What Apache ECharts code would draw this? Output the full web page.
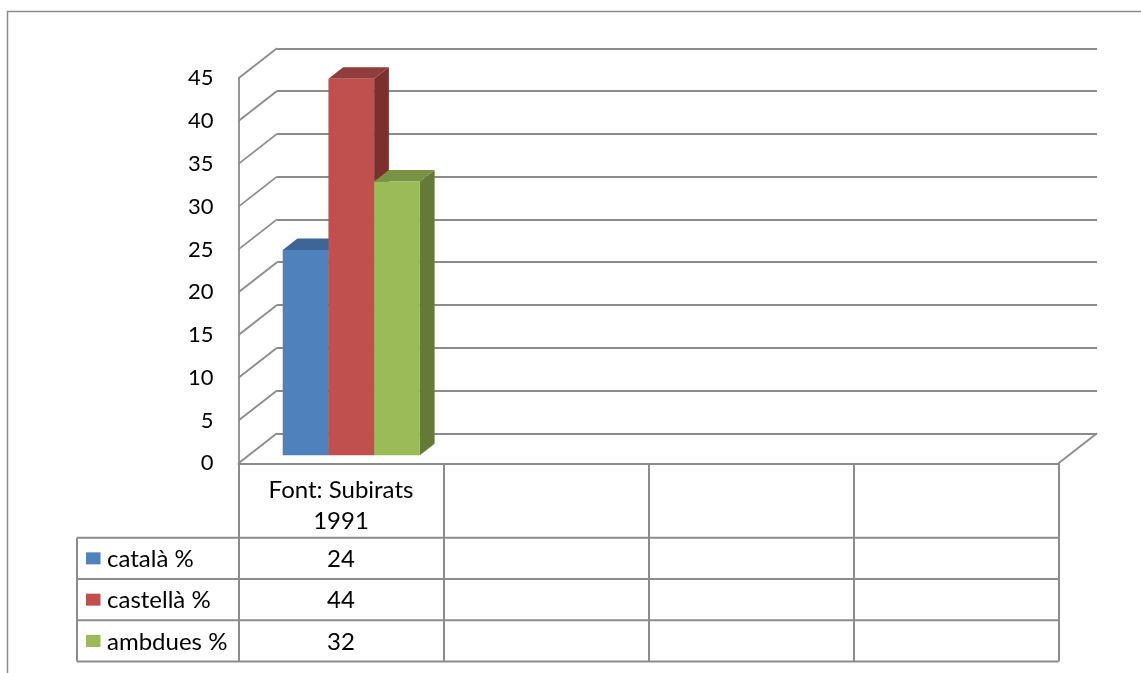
<!DOCTYPE html>
<html>
<head>
<meta charset="utf-8">
<script src="https://cdn.jsdelivr.net/npm/echarts@6/dist/echarts.min.js"></script>
<style>
  html, body { margin: 0; padding: 0; background: #ffffff; }
  #chart { width: 1141px; height: 673px; }
</style>
</head>
<body>
<div id="chart"></div>
<script>
// Categories along the floor (only the first one carries data)
const categories = ['Font: Subirats\n1991', '', '', ''];
// Series names, listed in the data table
const seriesNames = ['català %', 'castellà %', 'ambdues %'];
// Series values per category
const catala   = [24, null, null, null];
const castella = [44, null, null, null];
const ambdues  = [32, null, null, null];
// Value axis
const yMin = 0, yMax = 45, yStep = 5;
const yTicks = [0, 5, 10, 15, 20, 25, 30, 35, 40, 45];

const seriesValues = [catala, castella, ambdues];

// Face colours: front, top, side
const palette = [
  { front: '#4F81BD', top: '#3D6596', side: '#2F4F75' },
  { front: '#C0504D', top: '#913D3B', side: '#7B302E' },
  { front: '#9BBB59', top: '#789343', side: '#667A38' }
];

// Oblique projection: full depth of the box as a screen offset
const DX = 38.5, DY = -30;
// Depth span occupied by the columns (fraction of the full depth)
const D0 = 0.267, D1 = 0.65;
// Column width as a fraction of a category band
const BAR_FRAC = 0.223;

const LINE = '#8c8c8c';
const FONT = 'Lato, "Open Sans", sans-serif';
const TEXT_SIZE = 24;

// Front plane of the box
const front = { left: 238.5, right: 82.5, top: 78.3, bottom: 209.7 };
// Back wall = front plane pushed by the depth vector
const back = {
  left: front.left + DX, right: front.right - DX,
  top: front.top + DY, bottom: front.bottom - DY
};

// Data table layout
const HEADER_H = 74.4, ROW_H = 41.3, LEGEND_LEFT = 77;

function barRenderer(si) {
  const col = palette[si];
  return function (params, api) {
    const cat = api.value(0), val = api.value(1);
    if (val == null || isNaN(val)) return;
    const band = api.size([1, 0])[0];
    const w = band * BAR_FRAC;
    const c = api.coord([cat, val]);
    const b = api.coord([cat, 0]);
    const x0 = c[0] + (si - 1.5) * w + D0 * DX;
    const x1 = x0 + w;
    const yt = c[1] + D0 * DY;
    const yb = b[1] + D0 * DY;
    const ddx = (D1 - D0) * DX, ddy = (D1 - D0) * DY;
    return {
      type: 'group',
      children: [
        { type: 'polygon',
          shape: { points: [[x1, yb], [x1 + ddx, yb + ddy], [x1 + ddx, yt + ddy], [x1, yt]] },
          style: { fill: col.side } },
        { type: 'polygon',
          shape: { points: [[x0, yt], [x1, yt], [x1 + ddx, yt + ddy], [x0 + ddx, yt + ddy]] },
          style: { fill: col.top } },
        { type: 'rect',
          shape: { x: x0, y: yt, width: w, height: yb - yt },
          style: { fill: col.front } }
      ]
    };
  };
}

// Left wall diagonals at every tick, plus the right edge of the floor
function wallRenderer(params, api) {
  const cs = params.coordSys;
  const v = api.value(1);
  const p = api.coord([0, v]);
  const children = [{
    type: 'line',
    shape: { x1: cs.x, y1: p[1], x2: cs.x + DX, y2: p[1] + DY },
    style: { stroke: LINE, lineWidth: 1.8 }
  }];
  if (v === yMin) {
    const xr = cs.x + cs.width;
    children.push({
      type: 'line',
      shape: { x1: xr, y1: p[1], x2: xr + DX, y2: p[1] + DY },
      style: { stroke: LINE, lineWidth: 1.8 }
    });
  }
  return { type: 'group', children };
}

// Data table rows under the category axis
function tableRenderer(params, api) {
  const cs = params.coordSys;
  const yFloor = api.coord([0, yMin])[1];
  const yHead = yFloor + HEADER_H;
  const xRight = cs.x + cs.width;
  const children = [];
  for (let r = 0; r <= seriesNames.length; r++) {
    const y = yHead + r * ROW_H;
    children.push({
      type: 'line',
      shape: { x1: LEGEND_LEFT, y1: y, x2: xRight, y2: y },
      style: { stroke: LINE, lineWidth: 2 }
    });
  }
  children.push({
    type: 'line',
    shape: { x1: LEGEND_LEFT, y1: yHead, x2: LEGEND_LEFT, y2: yHead + seriesNames.length * ROW_H },
    style: { stroke: LINE, lineWidth: 2 }
  });
  seriesNames.forEach(function (name, i) {
    const yc = yHead + (i + 0.5) * ROW_H;
    children.push({
      type: 'rect',
      shape: { x: LEGEND_LEFT + 9, y: yc - 6, width: 14.5, height: 12 },
      style: { fill: palette[i].front }
    });
    children.push({
      type: 'text',
      x: LEGEND_LEFT + 30, y: yc + 1,
      style: { text: name, fill: '#000', font: TEXT_SIZE + 'px ' + FONT, align: 'left', verticalAlign: 'middle' }
    });
    seriesValues[i].forEach(function (v, j) {
      if (v == null) return;
      const xc = api.coord([j, yMin])[0];
      children.push({
        type: 'text',
        x: xc, y: yc + 1,
        style: { text: String(v), fill: '#000', font: TEXT_SIZE + 'px ' + FONT, align: 'center', verticalAlign: 'middle' }
      });
    });
  });
  return { type: 'group', children };
}

const chart = echarts.init(document.getElementById('chart'), null, { renderer: 'canvas' });

const series = [
  {
    type: 'custom', name: 'walls', xAxisIndex: 0, yAxisIndex: 0,
    silent: true, clip: false, z: 1,
    renderItem: wallRenderer,
    data: yTicks.map(function (v) { return [0, v]; })
  },
  {
    type: 'custom', name: 'table', xAxisIndex: 0, yAxisIndex: 0,
    silent: true, clip: false, z: 1,
    renderItem: tableRenderer,
    data: [[0, 0]]
  }
];
seriesNames.forEach(function (name, i) {
  series.push({
    type: 'custom', name: name, xAxisIndex: 0, yAxisIndex: 0,
    clip: false, z: 3,
    renderItem: barRenderer(i),
    data: seriesValues[i]
      .map(function (v, j) { return [j, v]; })
      .filter(function (d) { return d[1] != null; })
  });
});

chart.setOption({
  animation: false,
  backgroundColor: '#ffffff',
  textStyle: { fontFamily: FONT },
  graphic: [{
    type: 'rect', silent: true,
    shape: { x: 7.5, y: 11.5, width: 1400, height: 900 },
    style: { fill: 'none', stroke: LINE, lineWidth: 1.5 }
  }],
  grid: [
    Object.assign({ containLabel: false }, front),
    Object.assign({ containLabel: false }, back)
  ],
  xAxis: [
    {
      type: 'category', gridIndex: 0, data: categories, boundaryGap: true,
      axisLine: { show: true, lineStyle: { color: LINE, width: 2 } },
      axisTick: { show: true, interval: 0, length: HEADER_H + ROW_H * seriesNames.length,
                  lineStyle: { color: LINE, width: 2 } },
      axisLabel: { interval: 0, margin: 11, color: '#000', fontSize: TEXT_SIZE, lineHeight: 31,
                   fontFamily: FONT, align: 'center' },
      splitLine: { show: false }
    },
    {
      type: 'category', gridIndex: 1, data: categories, show: false
    }
  ],
  yAxis: [
    {
      type: 'value', gridIndex: 0, min: yMin, max: yMax, interval: yStep,
      axisLine: { show: true, lineStyle: { color: LINE, width: 1.8 } },
      axisTick: { show: false },
      axisLabel: { margin: 25, color: '#000', fontSize: 22, fontFamily: FONT, padding: [5, 0, 0, 0] },
      splitLine: { show: false }
    },
    {
      type: 'value', gridIndex: 1, min: yMin, max: yMax, interval: yStep,
      axisLine: { show: false }, axisTick: { show: false }, axisLabel: { show: false },
      splitLine: { show: true, lineStyle: { color: LINE, width: 1.8 } }
    }
  ],
  series: series
});
</script>
</body>
</html>
